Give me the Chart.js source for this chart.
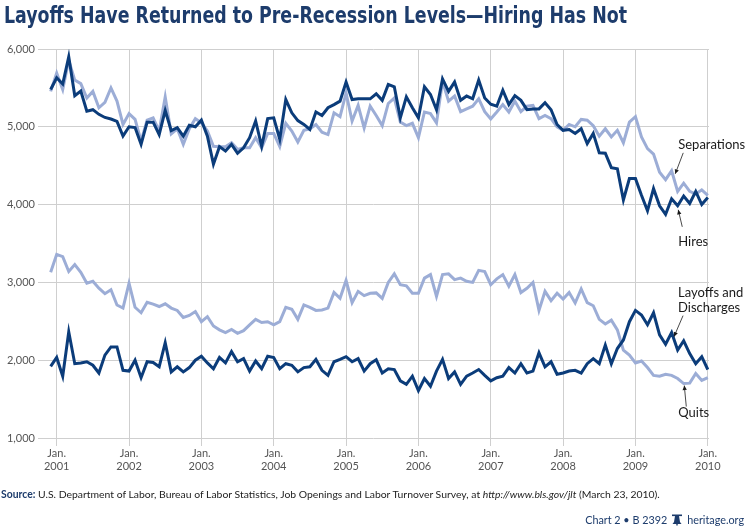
<!DOCTYPE html>
<html>
<head>
<meta charset="utf-8">
<script src="https://cdn.jsdelivr.net/npm/chart.js@4.4.1/dist/chart.umd.min.js"></script>
<style>
  html,body{margin:0;padding:0;background:#fff;}
  body{width:750px;height:528px;position:relative;overflow:hidden;font-family:Lato,"Open Sans",sans-serif;}
  #wrap{position:absolute;left:0;top:0;width:750px;height:528px;}
  #title{position:absolute;left:4px;top:2px;font-family:"Liberation Sans Narrow","DejaVu Sans Condensed","Roboto Condensed",sans-serif;font-weight:bold;font-size:23px;color:#1d3c6c;white-space:nowrap;transform-origin:0 0;}
  #source{position:absolute;left:1px;top:488px;font-size:10.4px;color:#222;white-space:nowrap;}
  #source b{color:#1d3c6c;}
  #footer{position:absolute;right:6px;top:513px;font-size:10.8px;color:#1d3c6c;white-space:nowrap;display:flex;align-items:center;gap:4px;}
</style>
</head>
<body>
<div id="wrap"><canvas id="c" width="750" height="528"></canvas></div>
<div id="title">Layoffs Have Returned to Pre-Recession Levels—Hiring Has Not</div>
<div id="source"><b>Source:</b> U.S. Department of Labor, Bureau of Labor Statistics, Job Openings and Labor Turnover Survey, at <i>http://www.bls.gov/jlt</i> (March 23, 2010).</div>
<div id="footer"><span>Chart 2 • B 2392</span><svg width="12" height="12" viewBox="0 0 12 12"><rect x="1" y="0.5" width="10" height="1.6" fill="#1d3c6c"/><path d="M4 2 L8 2 L9 8 L10.5 10 L1.5 10 L3 8 Z" fill="#1d3c6c"/><rect x="5.3" y="10" width="1.4" height="1.5" fill="#1d3c6c"/></svg><span>heritage.org</span></div>
<script>
// Monthly data, December 2000 through January 2010 (thousands)
const startYear = 2000; // first point is December 2000
const yearTicks = [2001,2002,2003,2004,2005,2006,2007,2008,2009,2010];
const yTicks = [1000,2000,3000,4000,5000,6000];

const hires = [5480,
 5630,5550,5900,5400,5460,5200,5220,5160,5120,5100,5070,4880,
 5000,4990,4775,5060,5060,4900,5210,4950,4990,4880,5020,5000,
 5085,4880,4520,4745,4690,4775,4660,4730,4860,5075,4750,5105,
 5115,4840,5350,5180,5080,5030,4965,5190,5145,5245,5285,5330,
 5575,5350,5360,5360,5360,5425,5340,5545,5515,5115,5385,5245,
 5115,5515,5415,5220,5615,5455,5575,5340,5395,5360,5600,5370,
 5290,5265,5470,5285,5400,5340,5220,5230,5230,5310,5220,5030,
 4955,4965,4915,4975,4785,4915,4665,4660,4475,4460,4060,4335,
 4335,4120,3920,4205,3985,3875,4075,3985,4110,4015,4170,4000,
 4090];

const separations = [5455,
 5690,5480,5855,5600,5555,5370,5455,5245,5315,5500,5330,5030,
 5170,5095,4815,5085,5115,4945,5385,4910,4975,4775,4975,5105,
 5050,4945,4750,4745,4745,4795,4710,4730,4730,4860,4730,4915,
 4915,4745,5045,4945,4805,4955,4975,5030,4930,4900,5180,5130,
 5435,5075,5275,4985,5265,5145,5015,5300,5370,5060,5015,5045,
 4860,5190,5170,5050,5585,5330,5395,5195,5230,5265,5360,5195,
 5100,5190,5285,5190,5330,5195,5265,5275,5105,5145,5105,5000,
 4955,5030,5000,5095,5085,5015,4880,4975,4870,4955,4795,5060,
 5130,4870,4720,4650,4415,4320,4435,4170,4275,4170,4135,4190,
 4120];

const quits = [3130,
 3360,3330,3140,3230,3130,2990,3015,2925,2855,2905,2710,2670,
 2990,2680,2610,2745,2720,2690,2725,2670,2640,2550,2575,2625,
 2495,2560,2440,2390,2355,2395,2345,2380,2455,2525,2485,2495,
 2455,2495,2680,2655,2525,2710,2680,2640,2645,2670,2870,2795,
 3025,2740,2885,2830,2860,2865,2795,3000,3110,2970,2955,2860,
 2860,3055,3100,2820,3100,3110,3035,3055,3015,3000,3155,3140,
 2970,3045,3100,2950,3100,2870,2925,3000,2640,2885,2765,2860,
 2785,2870,2735,2915,2740,2700,2525,2465,2515,2390,2130,2065,
 1965,1990,1905,1805,1795,1820,1805,1765,1700,1705,1830,1740,
 1775];

const layoffs = [1920,
 2035,1795,2365,1955,1965,1980,1935,1835,2065,2170,2170,1870,
 1860,2000,1775,1980,1970,1915,2225,1850,1915,1850,1905,2000,
 2050,1965,1890,2035,1965,2110,1980,2020,1860,1990,1890,2050,
 2035,1890,1955,1935,1850,1905,1915,2010,1870,1805,1980,2010,
 2045,1980,2020,1860,1955,2005,1835,1890,1880,1735,1690,1795,
 1610,1765,1665,1860,2010,1765,1850,1690,1795,1835,1880,1805,
 1735,1775,1795,1905,1835,1955,1835,1860,2095,1915,1980,1820,
 1835,1860,1870,1835,1955,2020,1955,2195,1955,2150,2260,2495,
 2640,2580,2455,2610,2325,2205,2355,2130,2250,2085,1955,2045,
 1880];

// Annotations: label, anchor (month index, value), text offset, tail offset
const annotations = [
  {lines:['Separations'], idx:103.6, val:4395, tx:3, ty:-29, ax:8, ay:-21},
  {lines:['Hires'], idx:104.1, val:3933, tx:0, ty:32, ax:4, ay:17},
  {lines:['Layoffs and','Discharges'], idx:103.4, val:2303, tx:4, ty:-44, ax:9, ay:-21},
  {lines:['Quits'], idx:105.1, val:1674, tx:-6, ty:27, ax:2, ay:21}
];

const DARK = '#0b3c7a';
const LIGHT = '#9cadd6';

function pts(arr){ return arr.map((v,i)=>({x:i,y:v})); }

// fit title
(function(){
  const t = document.getElementById('title');
  const w = t.getBoundingClientRect().width;
  const target = 623;
  t.style.transform = 'scaleX(' + (target/w) + ')';
})();

const annoPlugin = {
  id:'anno',
  afterDatasetsDraw(chart){
    const ctx = chart.ctx, xs = chart.scales.x, ys = chart.scales.y;
    ctx.save();
    ctx.font = '13px Lato, "Open Sans", sans-serif';
    ctx.fillStyle = '#1a1a1a';
    ctx.strokeStyle = '#1a1a1a';
    ctx.lineWidth = 0.8;
    annotations.forEach(a=>{
      const px = xs.getPixelForValue(a.idx), py = ys.getPixelForValue(a.val);
      const tx = px + a.ax, ty = py + a.ay;
      ctx.beginPath(); ctx.moveTo(tx,ty); ctx.lineTo(px,py); ctx.stroke();
      const ang = Math.atan2(py-ty, px-tx);
      const L = 5, W = 0.45;
      ctx.beginPath();
      ctx.moveTo(px,py);
      ctx.lineTo(px - L*Math.cos(ang-W), py - L*Math.sin(ang-W));
      ctx.lineTo(px - L*Math.cos(ang+W), py - L*Math.sin(ang+W));
      ctx.closePath(); ctx.fill();
      ctx.textAlign='left'; ctx.textBaseline='middle';
      a.lines.forEach((ln,k)=>{
        ctx.fillText(ln, px + a.tx, py + a.ty + k*15);
      });
    });
    ctx.restore();
  }
};

new Chart(document.getElementById('c'), {
  type:'line',
  data:{
    datasets:[
      {label:'Hires', data:pts(hires), borderColor:DARK, borderWidth:3, pointRadius:0, order:0},
      {label:'Layoffs and Discharges', data:pts(layoffs), borderColor:DARK, borderWidth:3, pointRadius:0, order:0},
      {label:'Separations', data:pts(separations), borderColor:LIGHT, borderWidth:3, pointRadius:0, order:1},
      {label:'Quits', data:pts(quits), borderColor:LIGHT, borderWidth:3, pointRadius:0, order:1}
    ]
  },
  options:{
    responsive:false, animation:false, devicePixelRatio:1,
    layout:{padding:{left:0,right:41,top:49,bottom:50}},
    plugins:{legend:{display:false}, tooltip:{enabled:false}},
    elements:{line:{tension:0, borderJoinStyle:'miter', borderCapStyle:'butt'}},
    scales:{
      x:{
        type:'linear', min:-2.1, max:109.2,
        afterBuildTicks(s){ s.ticks = yearTicks.map(y=>({value:(y-startYear)*12-11})); },
        afterFit(s){ s.height = 40; },
        border:{display:false},
        grid:{color:'#cfcfcf', lineWidth:1, tickLength:8, drawTicks:true},
        ticks:{
          autoSkip:false, maxRotation:0, padding:1,
          font:{family:'Lato, "Open Sans", sans-serif', size:11}, color:'#555',
          callback(v){ return ['Jan.', String(startYear + Math.round((v+11)/12))]; }
        }
      },
      y:{
        min:1000, max:6000,
        afterBuildTicks(s){ s.ticks = yTicks.map(v=>({value:v})); },
        afterFit(s){ s.width = 38; },
        border:{display:false},
        grid:{color:'#cfcfcf', lineWidth:1, drawTicks:false},
        ticks:{
          padding:3,
          font:{family:'Lato, "Open Sans", sans-serif', size:11}, color:'#555',
          callback(v){ return v.toLocaleString('en-US'); }
        }
      }
    }
  },
  plugins:[annoPlugin]
});
</script>
</body>
</html>
